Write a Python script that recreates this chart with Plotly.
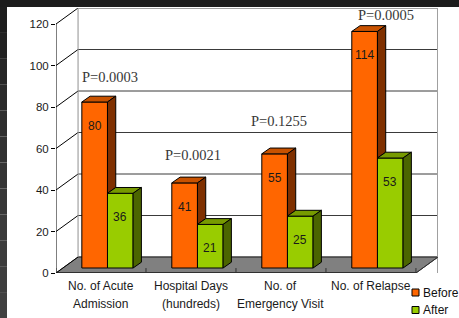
import plotly.graph_objects as go

# ---------------- data ----------------
categories = ["No. of Acute<br>Admission", "Hospital Days<br>(hundreds)",
              "No. of<br>Emergency Visit", "No. of Relapse"]
before = [80, 41, 55, 114]
after = [36, 21, 25, 53]
p_values = ["P=0.0003", "P=0.0021", "P=0.1255", "P=0.0005"]
y_ticks = [0, 20, 40, 60, 80, 100, 120]
series_names = ["Before", "After"]

# ---------------- geometry (axis units) ----------------
WX, WY = 0.245, 7.71        # depth of the walls / floor
OX, OY = 0.072, 2.41        # plane in which the bars stand
DX, DY = 0.092, 2.8         # depth of each bar
BW = 0.285                  # bar width
YMAX = y_ticks[-1] + WY
XMAX = len(categories) + WX

ORANGE, ORANGE_TOP, ORANGE_SIDE = "#FF6600", "#C85200", "#7F3000"
GREEN, GREEN_TOP, GREEN_SIDE = "#99CC00", "#779A00", "#4B6500"

n = len(categories)
xb = [i + 0.5 + OX - BW / 2 for i in range(n)]
xa = [i + 0.5 + OX + BW / 2 for i in range(n)]

fig = go.Figure()

fig.add_trace(go.Bar(x=xb, y=before, base=OY, width=BW, name=series_names[0],
                     marker=dict(color=ORANGE, line=dict(color="black", width=1)),
                     showlegend=False, hoverinfo="skip"))
fig.add_trace(go.Bar(x=xa, y=after, base=OY, width=BW, name=series_names[1],
                     marker=dict(color=GREEN, line=dict(color="black", width=1)),
                     showlegend=False, hoverinfo="skip"))


def poly_trace(polys, color):
    xs, ys = [], []
    for p in polys:
        for (px, py) in p:
            xs.append(px)
            ys.append(py)
        xs.append(p[0][0]); ys.append(p[0][1])
        xs.append(None); ys.append(None)
    return go.Scatter(x=xs, y=ys, mode="lines", fill="toself", fillcolor=color,
                      line=dict(color="black", width=1), showlegend=False,
                      hoverinfo="skip")


def top_face(xc, v):
    xl, xr, t = xc - BW / 2, xc + BW / 2, OY + v
    return [(xl, t), (xr, t), (xr + DX, t + DY), (xl + DX, t + DY)]


def side_face(xc, v, lo):
    xr, t = xc + BW / 2, OY + v
    return [(xr, lo), (xr + DX, lo + DY), (xr + DX, t + DY), (xr, t)]


fig.add_trace(poly_trace([top_face(xb[i], before[i]) for i in range(n)], ORANGE_TOP))
fig.add_trace(poly_trace([side_face(xb[i], before[i], OY + min(after[i], before[i]))
                          for i in range(n)], ORANGE_SIDE))
fig.add_trace(poly_trace([top_face(xa[i], after[i]) for i in range(n)], GREEN_TOP))
fig.add_trace(poly_trace([side_face(xa[i], after[i], OY) for i in range(n)], GREEN_SIDE))

shapes = []
# page frame (dark bands)
PW, PH = 382.0, 265.0
def pxx(px):
    return (px - 56) / PW
def pyy(py):
    return (273 - py) / PH
shapes.append(dict(type="rect", xref="paper", yref="paper", x0=pxx(0), x1=pxx(459),
                   y0=pyy(0), y1=pyy(7), fillcolor="#1c1c1c", line=dict(width=0),
                   layer="below"))
grays = ["#1e1e1e", "#222222", "#262626", "#2a2a2a", "#2e2e2e", "#313131",
         "#343434", "#373737", "#3a3a3a", "#3c3c3c", "#3e3e3e", "#404040"]
seg = (318 - 7) / len(grays)
for k, g in enumerate(grays):
    shapes.append(dict(type="rect", xref="paper", yref="paper", x0=pxx(0), x1=pxx(7),
                       y0=pyy(7 + seg * (k + 1)), y1=pyy(7 + seg * k),
                       fillcolor=g, line=dict(width=0), layer="below"))

# floor
shapes.append(dict(type="path", xref="x", yref="y",
                   path=f"M0,0 L{n},0 L{n + WX},{WY} L{WX},{WY} Z",
                   fillcolor="#808080", line=dict(color="#404040", width=1), layer="below"))
# back wall gridlines and connectors
for t in y_ticks:
    shapes.append(dict(type="line", xref="x", yref="y", x0=WX, x1=XMAX, y0=t + WY, y1=t + WY,
                       line=dict(color="#3a3a3a", width=1), layer="below"))
    shapes.append(dict(type="line", xref="x", yref="y", x0=0, x1=WX, y0=t, y1=t + WY,
                       line=dict(color="black", width=1), layer="below"))
# back wall edges
shapes.append(dict(type="line", xref="x", yref="y", x0=WX, x1=WX, y0=WY, y1=YMAX,
                   line=dict(color="#909090", width=1), layer="below"))
shapes.append(dict(type="line", xref="x", yref="y", x0=XMAX, x1=XMAX, y0=0, y1=YMAX,
                   line=dict(color="#a0a0a0", width=2), layer="below"))
shapes.append(dict(type="line", xref="x", yref="y", x0=WX, x1=XMAX, y0=YMAX, y1=YMAX,
                   line=dict(color="#a0a0a0", width=2), layer="below"))
# front axes
shapes.append(dict(type="line", xref="x", yref="y", x0=0, x1=0, y0=0, y1=y_ticks[-1],
                   line=dict(color="black", width=1), layer="below"))
shapes.append(dict(type="line", xref="x", yref="y", x0=0, x1=n, y0=0, y1=0,
                   line=dict(color="black", width=1), layer="below"))
shapes.append(dict(type="line", xref="x", yref="y", x0=n, x1=XMAX, y0=0, y1=WY,
                   line=dict(color="#303030", width=1), layer="below"))
for i in range(n + 1):
    shapes.append(dict(type="line", xref="x", yref="y", x0=i, x1=i, y0=0, y1=2.4,
                       line=dict(color="#303030", width=1), layer="below"))

annotations = []
# category labels (two lines, Excel-like spacing)
cat_lines_py = [286, 304]
for i, cat in enumerate(categories):
    for line_txt, py in zip(cat.split("<br>"), cat_lines_py):
        annotations.append(dict(x=i + 0.5, xref="x", yref="paper", y=pyy(py), text=line_txt,
                                showarrow=False, xanchor="center", yanchor="middle",
                                font=dict(family="Arial, Liberation Sans", size=12,
                                          color="#1a1a1a")))

# legend (manual)
leg = [(series_names[0], ORANGE, 292.5), (series_names[1], GREEN, 310)]
for name, col, py in leg:
    shapes.append(dict(type="rect", xref="paper", yref="paper", x0=pxx(412), x1=pxx(419),
                       y0=pyy(py + 3.5), y1=pyy(py - 3.5), fillcolor=col,
                       line=dict(color="black", width=1)))
    annotations.append(dict(xref="paper", yref="paper", x=pxx(421), y=pyy(py), text=name,
                            showarrow=False, xanchor="left", yanchor="middle",
                            font=dict(family="Arial, Liberation Sans", size=12, color="#111")))

# value labels
for i in range(n):
    for xs_, vals in ((xb, before), (xa, after)):
        annotations.append(dict(x=xs_[i], y=OY + vals[i], yshift=-24, text=str(vals[i]),
                                showarrow=False, xanchor="center", yanchor="middle",
                                font=dict(family="Arial, Liberation Sans", size=12,
                                          color="#1a1a1a")))

# P-value labels
p_pos = [(0.60, 94.5), (1.52, 56.9), (2.48, 73.3), (3.67, 124.3)]
for (px_, py_), txt in zip(p_pos, p_values):
    annotations.append(dict(x=px_, y=py_, text=txt, showarrow=False, xanchor="center",
                            yanchor="middle",
                            font=dict(family="Liberation Serif, Times New Roman", size=14.5,
                                      color="#383838")))

fig.update_layout(
    width=459, height=318,
    margin=dict(l=56, r=21, t=8, b=45, pad=0),
    paper_bgcolor="white", plot_bgcolor="rgba(0,0,0,0)",
    barmode="overlay", showlegend=False,
    shapes=shapes, annotations=annotations,
    xaxis=dict(range=[0, XMAX], tickmode="array", tickvals=[i + 0.5 for i in range(n)],
               ticktext=categories, showticklabels=False, ticks="", showgrid=False,
               zeroline=False, showline=False, fixedrange=True),
    yaxis=dict(range=[0, YMAX], tickmode="array", tickvals=y_ticks,
               ticks="outside", ticklen=4, tickcolor="black", showgrid=False,
               zeroline=False, showline=False,
               tickfont=dict(family="Arial, Liberation Sans", size=11.5, color="#1a1a1a"),
               fixedrange=True),
)

fig.write_html("out.html", config={"displayModeBar": False},
               post_script="document.body.style.margin='0';document.body.style.overflow='hidden';")
